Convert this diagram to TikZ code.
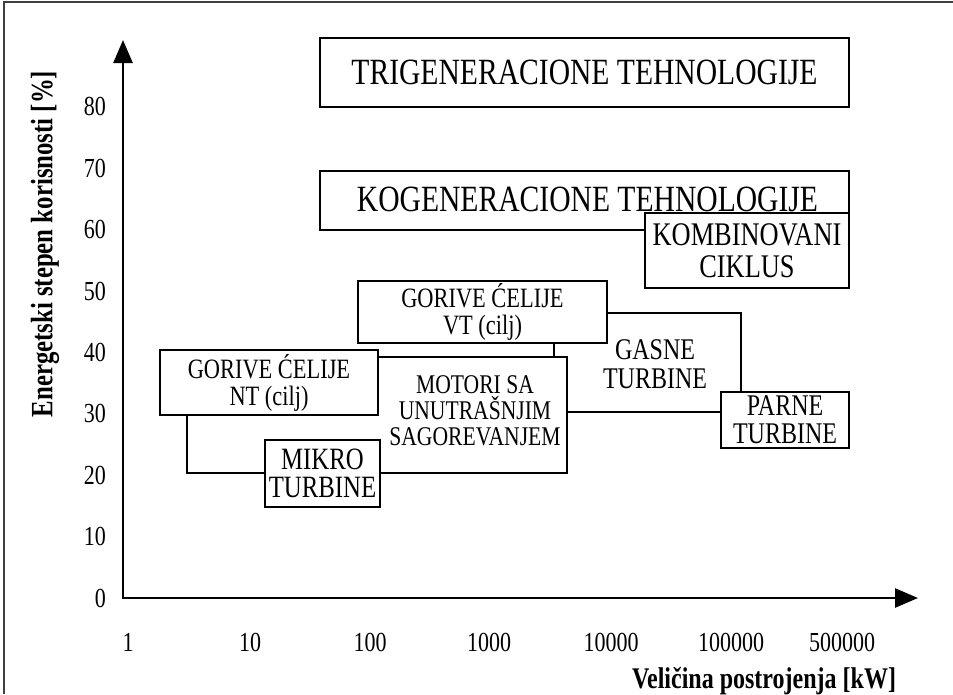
\documentclass[tikz,border=0pt]{standalone}
\usepackage{fontspec}
\setmainfont{Liberation Serif}[FakeStretch=0.8]
\usetikzlibrary{arrows.meta}
\newcommand{\myfs}[2]{\fontsize{#1}{#2}\selectfont}
\begin{document}
\begin{tikzpicture}[x=1pt,y=-1pt,
  box/.style={draw=black, line width=2.5pt, fill=white, inner sep=0pt, align=center},
  region/.style={draw=black, line width=2.2pt, fill=white, inner sep=0pt},
  axisline/.style={line width=2.6pt, {Triangle[length=23pt,width=19pt]}-{Triangle[length=23pt,width=19pt]}},
  lbl/.style={inner sep=0pt, font=\myfs{27.5}{30}},
  frameline/.style={line width=1.5pt, draw=black!75}
]
\useasboundingbox (0,0) rectangle (953,694);
% frame
\coordinate (fbl) at (4,694);
\coordinate (ftl) at (4,2);
\coordinate (ftr) at (953,2);
\draw[frameline] (fbl) -- (ftl) -- (ftr);
% axes
\coordinate (o) at (123,598);
\coordinate (ytip) at (123,40);
\coordinate (xtip) at (918,598);
\draw[axisline] (ytip) -- (o) -- (xtip);
% y labels
\foreach \v in {0,10,...,80}
  \node[lbl, anchor=east] (y\v) at (106,{598-6.14*\v}) {\v};
% x labels
\foreach \t/\xx [count=\i] in {1/128,10/250,100/370,1000/489,10000/611,100000/731,500000/842}
  \node[lbl] (x\i) at (\xx,642) {\t};
% titles
\node[font=\bfseries\myfs{30}{32}, inner sep=0pt] (xtitle) at (764,681) {Veličina postrojenja [kW]};
\node[font=\bfseries\myfs{31}{33}, rotate=90, inner sep=0pt] (ytitle) at (45,244) {Energetski stepen korisnosti [\%]};
% boxes
\node[box, minimum width=529pt, minimum height=69pt, font=\myfs{37}{40}] (tri) at (584.5,72.5) {TRIGENERACIONE TEHNOLOGIJE};
\node[box, minimum width=529pt, minimum height=59pt, font=\myfs{37}{40}] (kogen) at (584.5,200.5) {\hspace*{6pt}\raisebox{3pt}{KOGENERACIONE TEHNOLOGIJE}};
\node[box, minimum width=204pt, minimum height=75pt, font=\myfs{33}{32}] (kombi) at (747,250.5) {KOMBINOVANI\\CIKLUS};
\node[region, minimum width=187pt, minimum height=99pt] (gasne) at (647.5,362.5) {};
\node[inner sep=0pt, align=center, font=\myfs{30}{29}] (gasnetext) at (655,364) {GASNE\\TURBINE};
\node[region, minimum width=380pt, minimum height=116pt] (motori) at (377,415) {};
\node[inner sep=0pt, align=center, font=\myfs{27}{26}] (motoritext) at (475,411) {MOTORI SA\\UNUTRAŠNJIM\\SAGOREVANJEM};
\node[box, minimum width=249pt, minimum height=62pt, font=\myfs{28}{27}] (vt) at (482.5,312) {GORIVE ĆELIJE\\VT (cilj)};
\node[box, minimum width=218pt, minimum height=65pt, font=\myfs{28}{27}] (nt) at (269,382.5) {GORIVE ĆELIJE\\NT (cilj)};
\node[box, minimum width=115pt, minimum height=67pt, font=\myfs{31}{28}] (mikro) at (322.5,473.5) {MIKRO\\TURBINE};
\node[box, minimum width=128pt, minimum height=56pt, font=\myfs{30}{28}] (parne) at (785,420) {PARNE\\TURBINE};
\end{tikzpicture}
\end{document}
